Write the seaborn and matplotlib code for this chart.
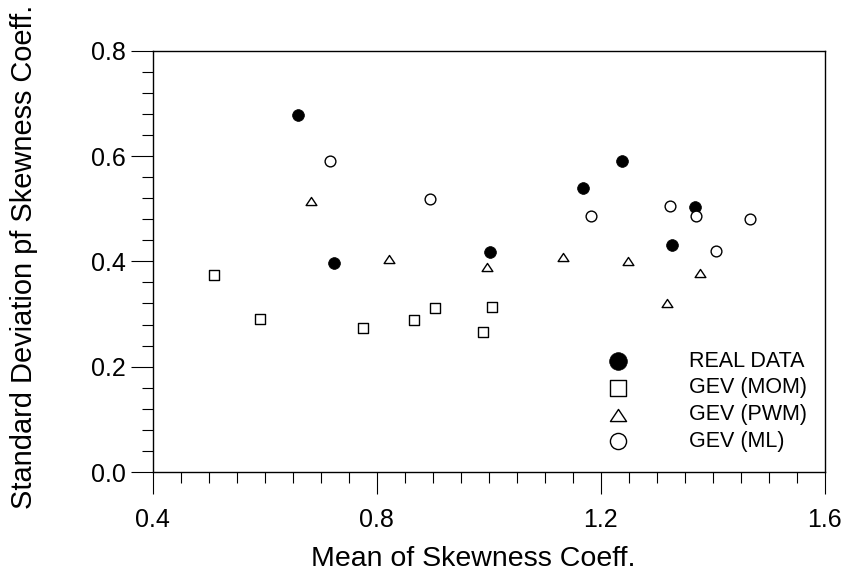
import numpy as np
import pandas as pd
import matplotlib
matplotlib.use("Agg")
import matplotlib.pyplot as plt
from matplotlib.ticker import MultipleLocator
from matplotlib.path import Path
import seaborn as sns

# values
real_x = [0.660, 0.723, 1.002, 1.168, 1.237, 1.328, 1.369]
real_y = [0.677, 0.397, 0.418, 0.539, 0.590, 0.431, 0.504]

mom_x = [0.509, 0.591, 0.776, 0.866, 0.904, 0.989, 1.005]
mom_y = [0.375, 0.290, 0.274, 0.289, 0.311, 0.265, 0.314]

pwm_x = [0.682, 0.821, 0.996, 1.133, 1.249, 1.319, 1.377]
pwm_y = [0.515, 0.405, 0.390, 0.409, 0.401, 0.320, 0.378]

ml_x = [0.717, 0.895, 1.182, 1.324, 1.370, 1.405, 1.466]
ml_y = [0.591, 0.518, 0.486, 0.506, 0.486, 0.419, 0.480]

labels = ["REAL DATA", "GEV (MOM)", "GEV (PWM)", "GEV (ML)"]

sns.set_style("ticks")
plt.rcParams["font.family"] = ["Liberation Sans", "DejaVu Sans"]
plt.rcParams["text.color"] = "black"
plt.rcParams["axes.labelcolor"] = "black"
plt.rcParams["xtick.color"] = "black"
plt.rcParams["ytick.color"] = "black"

fig = plt.figure(figsize=(8.53, 5.74), dpi=100)
ax = fig.add_axes([0.179, 0.1777, 0.788, 0.734])

# flatter open triangle, closed path
tri = Path([(-1, -0.75), (1, -0.75), (0, 0.75), (-1, -0.75)],
           [Path.MOVETO, Path.LINETO, Path.LINETO, Path.CLOSEPOLY])

series = [
    (real_x, real_y, "o", 72, "black", 0.5),
    (mom_x, mom_y, "s", 56, "white", 1.0),
    (pwm_x, pwm_y, tri, 60, "white", 1.0),
    (ml_x, ml_y, "o", 60, "white", 1.0),
]

for (xs, ys, mk, size, face, lw), lab in zip(series, labels):
    df = pd.DataFrame({"x": xs, "y": ys})
    sns.scatterplot(data=df, x="x", y="y", marker=mk, s=size, facecolor=face,
                    edgecolor="black", linewidth=lw, label=lab, ax=ax, zorder=3)

ax.set_xlim(0.4, 1.6)
ax.set_ylim(0.0, 0.8)
ax.xaxis.set_major_locator(MultipleLocator(0.4))
ax.xaxis.set_minor_locator(MultipleLocator(0.05))
ax.yaxis.set_major_locator(MultipleLocator(0.2))
ax.yaxis.set_minor_locator(MultipleLocator(0.04))

ax.tick_params(which="major", direction="out", length=16, width=0.8, labelsize=18)
ax.tick_params(which="minor", direction="out", length=8, width=0.8)
ax.tick_params(axis="x", which="major", pad=10)
ax.tick_params(axis="y", which="major", pad=3.5)

for sp in ax.spines.values():
    sp.set_visible(True)
    sp.set_linewidth(1.0)
    sp.set_color("black")

ax.set_xlabel("Mean of Skewness Coeff.", fontsize=20.5)
ax.set_ylabel("Standard Deviation pf Skewness Coeff.", fontsize=20.9)
ax.xaxis.set_label_coords(0.477, -0.176)
ax.yaxis.set_label_coords(-0.171, 0.51)

ax.legend(loc="lower right", bbox_to_anchor=(0.994, 0.014), frameon=False, fontsize=15.5,
          markerscale=1.5, labelspacing=0.27, handlelength=2.0, handletextpad=2.29,
          borderaxespad=0.25)

fig.savefig("out.png", dpi=100)
